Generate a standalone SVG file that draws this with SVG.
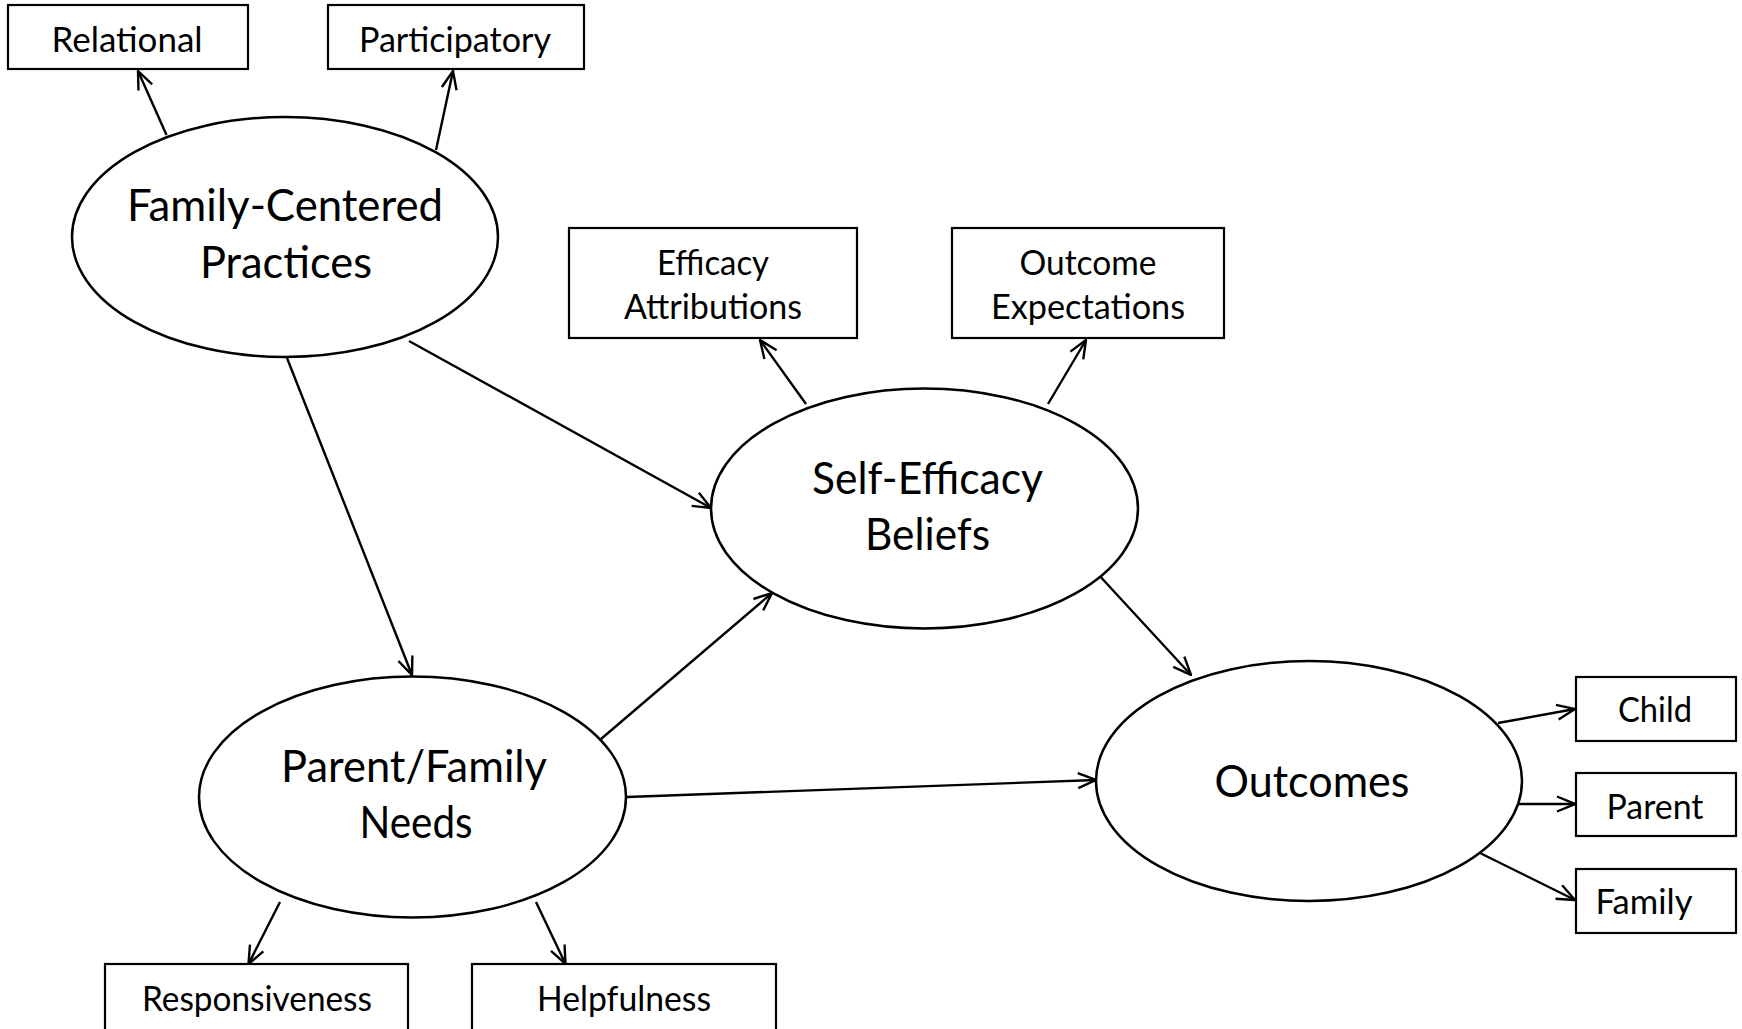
<svg xmlns="http://www.w3.org/2000/svg" width="1742" height="1029" viewBox="0 0 1742 1029">
<defs>
<style>
.box{fill:#fff;stroke:#000;stroke-width:2.2}
.ell{fill:#fff;stroke:#000;stroke-width:2.5}
.edge{fill:none;stroke:#000;stroke-width:2.4;marker-end:url(#arr)}
.lbl{font-family:Lato,"Liberation Sans",sans-serif;font-size:35px;fill:#000;text-anchor:middle}
.big{font-family:Lato,"Liberation Sans",sans-serif;font-size:45px;fill:#000;text-anchor:middle}
</style>
<marker id="arr" viewBox="0 0 20 18" refX="19" refY="9" markerWidth="20" markerHeight="18" markerUnits="userSpaceOnUse" orient="auto">
<path d="M1,1.5 L19,9 L1,16.5" fill="none" stroke="#000" stroke-width="2.4"/>
</marker>
</defs>
<rect width="1742" height="1029" fill="#fff"/>
<g id="connectors">
<line class="edge" x1="166.5" y1="135" x2="138" y2="71"/>
<line class="edge" x1="436" y1="150" x2="453" y2="71"/>
<line class="edge" x1="287" y1="358" x2="412" y2="675"/>
<line class="edge" x1="409" y1="341" x2="711" y2="508"/>
<line class="edge" x1="806" y1="404" x2="760" y2="340"/>
<line class="edge" x1="1048" y1="404" x2="1086" y2="340"/>
<line class="edge" x1="601" y1="739" x2="772" y2="593"/>
<line class="edge" x1="627" y1="797" x2="1096" y2="780"/>
<line class="edge" x1="1097" y1="573" x2="1191" y2="675"/>
<line class="edge" x1="280" y1="902" x2="248.5" y2="964"/>
<line class="edge" x1="536" y1="902" x2="565.5" y2="964"/>
<line class="edge" x1="1498" y1="723" x2="1575" y2="709"/>
<line class="edge" x1="1513" y1="804" x2="1575" y2="804"/>
<line class="edge" x1="1480" y1="853" x2="1575" y2="900"/>
</g>
<g id="relational"><rect class="box" x="8" y="5" width="240" height="64"/><text class="lbl" x="127" y="52" textLength="151" lengthAdjust="spacingAndGlyphs">Relational</text></g>
<g id="participatory"><rect class="box" x="328" y="5" width="256" height="64"/><text class="lbl" x="455" y="52" textLength="192" lengthAdjust="spacingAndGlyphs">Participatory</text></g>
<g id="family-centered-practices"><ellipse class="ell" cx="285" cy="237" rx="213" ry="120"/><text class="big" x="285" y="221" textLength="316" lengthAdjust="spacingAndGlyphs">Family-Centered</text><text class="big" x="286" y="278" textLength="172" lengthAdjust="spacingAndGlyphs">Practices</text></g>
<g id="efficacy-attributions"><rect class="box" x="569" y="228" width="288" height="110"/><text class="lbl" x="713" y="275" textLength="112" lengthAdjust="spacingAndGlyphs">Efficacy</text><text class="lbl" x="713" y="319" textLength="178" lengthAdjust="spacingAndGlyphs">Attributions</text></g>
<g id="outcome-expectations"><rect class="box" x="952" y="228" width="272" height="110"/><text class="lbl" x="1088" y="275" textLength="137" lengthAdjust="spacingAndGlyphs">Outcome</text><text class="lbl" x="1088" y="319" textLength="194" lengthAdjust="spacingAndGlyphs">Expectations</text></g>
<g id="self-efficacy-beliefs"><ellipse class="ell" cx="924.5" cy="508.5" rx="213.5" ry="120"/><text class="big" x="927.5" y="494" textLength="231" lengthAdjust="spacingAndGlyphs">Self-Efficacy</text><text class="big" x="927.5" y="550" textLength="125" lengthAdjust="spacingAndGlyphs">Beliefs</text></g>
<g id="parent-family-needs"><ellipse class="ell" cx="412.5" cy="797" rx="213.5" ry="120.5"/><text class="big" x="414" y="782" textLength="266" lengthAdjust="spacingAndGlyphs">Parent/Family</text><text class="big" x="416" y="838" textLength="113" lengthAdjust="spacingAndGlyphs">Needs</text></g>
<g id="outcomes"><ellipse class="ell" cx="1309" cy="781" rx="213" ry="120"/><text class="big" x="1312" y="797" textLength="195" lengthAdjust="spacingAndGlyphs">Outcomes</text></g>
<g id="responsiveness"><rect class="box" x="105" y="964" width="303" height="70"/><text class="lbl" x="257" y="1011" textLength="230" lengthAdjust="spacingAndGlyphs">Responsiveness</text></g>
<g id="helpfulness"><rect class="box" x="472" y="964" width="304" height="70"/><text class="lbl" x="624" y="1011" textLength="174" lengthAdjust="spacingAndGlyphs">Helpfulness</text></g>
<g id="child"><rect class="box" x="1576" y="677" width="160" height="64"/><text class="lbl" x="1655" y="722" textLength="74" lengthAdjust="spacingAndGlyphs">Child</text></g>
<g id="parent"><rect class="box" x="1576" y="773" width="160" height="63"/><text class="lbl" x="1655" y="819" textLength="97" lengthAdjust="spacingAndGlyphs">Parent</text></g>
<g id="family"><rect class="box" x="1576" y="869" width="160" height="64"/><text class="lbl" x="1644" y="914" textLength="97" lengthAdjust="spacingAndGlyphs">Family</text></g>
</svg>
